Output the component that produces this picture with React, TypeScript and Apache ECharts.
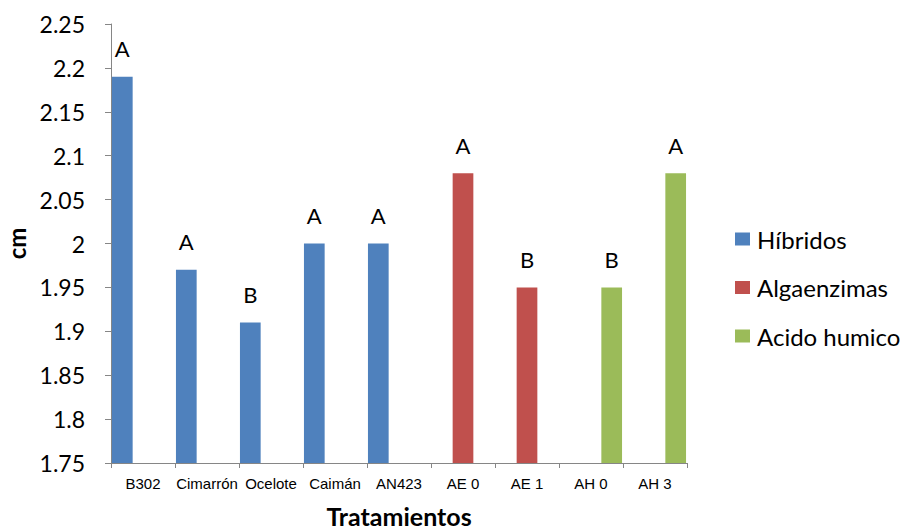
import React, { useEffect, useRef } from "react";
import * as echarts from "echarts";

const categories = ["B302", "Cimarrón", "Ocelote", "Caimán", "AN423", "AE 0", "AE 1", "AH 0", "AH 3"];
const hibridos = [2.19, 1.97, 1.91, 2.0, 2.0, null, null, null, null];
const algaenzimas = [null, null, null, null, null, 2.08, 1.95, null, null];
const acidoHumico = [null, null, null, null, null, null, null, 1.95, 2.08];
const letters = ["A", "A", "B", "A", "A", "A", "B", "B", "A"];
const seriesNames = ["Híbridos", "Algaenzimas", "Acido humico"];
const colors = ["#4F81BD", "#C0504D", "#9BBB59"];

const FONT = "Lato, 'Open Sans', sans-serif";

export default function App() {
  const ref = useRef<HTMLDivElement>(null);
  useEffect(() => {
    if (!ref.current) return;
    const chart = echarts.init(ref.current, undefined, { renderer: "svg" });
    const mk = (vals: (number | null)[], idx: number) => ({
      name: seriesNames[idx],
      type: "bar",
      barGap: "0%",
      barCategoryGap: "3%",
      itemStyle: { color: colors[idx] },
      data: vals.map((v) => (v == null ? null : v)),
      label: {
        show: true,
        position: "top",
        distance: 17,
        color: "#000",
        fontFamily: FONT,
        fontSize: 22,
        formatter: (p: any) => letters[p.dataIndex],
      },
    });
    chart.setOption({
      animation: false,
      backgroundColor: "#fff",
      grid: { left: 111, right: 214, top: 24, bottom: 68, containLabel: false, outerBoundsMode: "none" },
      legend: {
        orient: "vertical",
        left: 730,
        top: 222,
        icon: "rect",
        itemWidth: 15,
        itemHeight: 13,
        itemGap: 24.5,
        textStyle: { fontFamily: FONT, fontSize: 24, color: "#000", lineHeight: 24, padding: [0, 0, 0, 2] },
        data: seriesNames,
      },
      xAxis: {
        type: "category",
        data: categories,
        name: "Tratamientos",
        nameLocation: "middle",
        nameGap: 40,
        nameTextStyle: { fontFamily: FONT, fontSize: 25, fontWeight: "bold", color: "#000" },
        axisLine: { lineStyle: { color: "#868686", width: 1 } },
        axisTick: { show: true, length: 5, lineStyle: { color: "#868686" } },
        axisLabel: {
          fontFamily: "'Liberation Sans', Arial, sans-serif",
          fontSize: 15,
          color: "#000",
          margin: 13,
          interval: 0,
        },
      },
      yAxis: {
        type: "value",
        min: 1.75,
        max: 2.25,
        interval: 0.05,
        name: "cm",
        nameLocation: "middle",
        nameGap: 81,
        nameRotate: 90,
        nameTextStyle: { fontFamily: FONT, fontSize: 24, fontWeight: "bold", color: "#000" },
        splitLine: { show: false },
        axisLine: { show: true, lineStyle: { color: "#868686", width: 1 } },
        axisTick: { show: true, length: 6, lineStyle: { color: "#868686" } },
        axisLabel: {
          fontFamily: FONT,
          fontSize: 23,
          color: "#000",
          margin: 26,
          formatter: (v: number) => String(+v.toFixed(2)),
        },
      },
      series: [mk(hibridos, 0), mk(algaenzimas, 1), mk(acidoHumico, 2)],
    });
    return () => chart.dispose();
  }, []);
  return <div ref={ref} style={{ position: "fixed", left: 0, top: 0, width: 901, height: 531 }} />;
}
